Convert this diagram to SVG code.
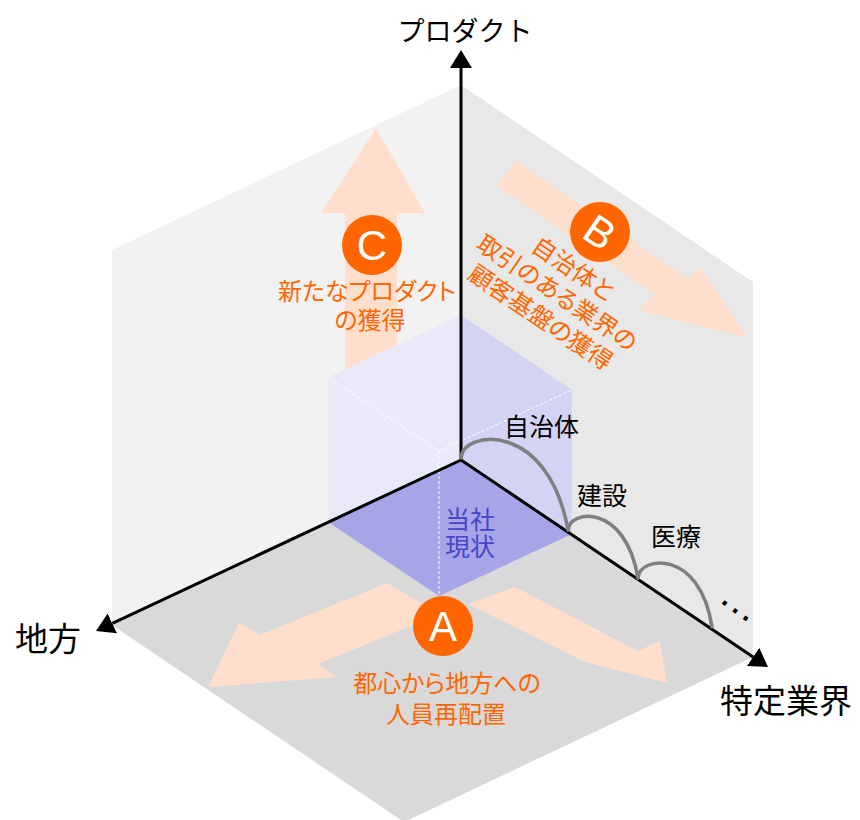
<svg xmlns="http://www.w3.org/2000/svg" width="860" height="820" viewBox="0 0 860 820">
<defs>
<style>
.jp{font-family:"Noto Sans CJK JP","Noto Sans",sans-serif;}
.orange{fill:#ff6600;font-size:24px;font-feature-settings:"palt" 1;text-anchor:middle;}
.lbl{fill:#000;font-size:25px;}
.axlbl{fill:#000;font-size:33px;}
.peach{fill:#ffdfcc;}
.badge{fill:#ff6600;}
.badgetxt{fill:#fff;font-family:"Liberation Sans",Arial,sans-serif;font-size:42px;text-anchor:middle;}
.axis{stroke:#000;stroke-width:3;fill:none;marker-end:url(#ah);}
.arc{stroke:#7f7f7f;stroke-width:3.5;fill:none;stroke-linecap:round;}
.dash{stroke:#fff;stroke-width:1;stroke-dasharray:3 2;fill:none;}
</style>
<marker id="ah" markerWidth="18" markerHeight="22" refX="0" refY="11" orient="auto" markerUnits="userSpaceOnUse" viewBox="0 0 18 22"><path d="M0,0 L18,11 L0,22 Z" fill="#000"/></marker>
</defs>
<rect width="860" height="820" fill="#fff"/>
<g id="walls">
<polygon points="461,85 112,250 112,625 461,460" fill="#f2f2f2"/>
<polygon points="461,85 753,282 753,657 461,460" fill="#e8e8e8"/>
<polygon points="461,460 112,625 404,822 753,657" fill="#d9d9d9"/>
</g>
<g id="arrow-C"><polygon class="peach" points="345,385 345,213 321,213 376,128 425,213 397,213 397,385"/></g>
<g id="arrow-B"><polygon class="peach" points="516,161 688,279 700,267 748,338 637,310 655,295 497,186"/></g>
<g id="arrows-A">
<polygon class="peach" points="387,583 260,635 239,623 208,687 337,677 318,664 440,614"/>
<polygon class="peach" points="515,587 638,651 660,641 667,683 585,662 468,604"/>
</g>
<g id="cube">
<polygon points="461,315 328,377 328,522 461,460" fill="#e9e9f8"/>
<polygon points="461,315 572,390 572,534 461,460" fill="#d3d3f3"/>
<polygon points="461,460 328,522 439,596 572,534" fill="#a5a5e8"/>
<polyline class="dash" points="328,377 439,451 572,390"/>
<line class="dash" x1="439" y1="451" x2="439" y2="596"/>
<text class="jp" x="470" y="529" font-size="25" fill="#4646c8" text-anchor="middle">当社</text>
<text class="jp" x="470" y="556" font-size="25" fill="#4646c8" text-anchor="middle">現状</text>
</g>
<g id="connectors">
<line class="axis" x1="461" y1="461" x2="461" y2="68"/>
<line class="axis" x1="461" y1="460" x2="112.3" y2="623.4"/>
<line class="axis" x1="461" y1="460" x2="753.1" y2="656.9"/>
<path class="arc" d="M461,458 C463,430 548,420 568,530"/>
<path class="arc" d="M568,530 C569,510 625,502 638,578"/>
<path class="arc" d="M638,578 C639,556 700,548 712,627"/>
</g>
<g id="axis-labels" class="jp">
<text class="jp" x="465" y="41" font-size="27" fill="#000" text-anchor="middle">プロダクト</text>
<text class="jp axlbl" x="15" y="651">地方</text>
<text class="jp axlbl" x="720" y="713">特定業界</text>
</g>
<g id="industries">
<text class="jp lbl" x="504" y="436">自治体</text>
<text class="jp lbl" x="577" y="505">建設</text>
<text class="jp lbl" x="651" y="546">医療</text>
<text transform="translate(735,611) rotate(36)" x="0" y="2" text-anchor="middle" font-family="Liberation Sans, Arial, sans-serif" font-size="41" fill="#000">…</text>
</g>
<g id="node-C">
<circle class="badge" cx="372" cy="245" r="30"/>
<text class="badgetxt" x="372" y="260">C</text>
<text class="jp orange" x="367" y="300">新たなプロダクト</text>
<text class="jp orange" x="370" y="329">の獲得</text>
</g>
<g id="node-B">
<circle class="badge" cx="600" cy="232" r="30"/>
<text class="badgetxt" transform="translate(600,232) rotate(34)" x="0" y="15">B</text>
<g transform="translate(557,293) rotate(34)">
<text class="jp orange" x="0" y="-20.5">自治体と</text>
<text class="jp orange" x="0" y="8.5">取引のある業界の</text>
<text class="jp orange" x="0" y="38">顧客基盤の獲得</text>
</g>
</g>
<g id="node-A">
<circle class="badge" cx="443" cy="626" r="30"/>
<text class="badgetxt" x="443" y="641">A</text>
<text class="jp orange" x="447" y="692">都心から地方への</text>
<text class="jp orange" x="446" y="723">人員再配置</text>
</g>
</svg>
